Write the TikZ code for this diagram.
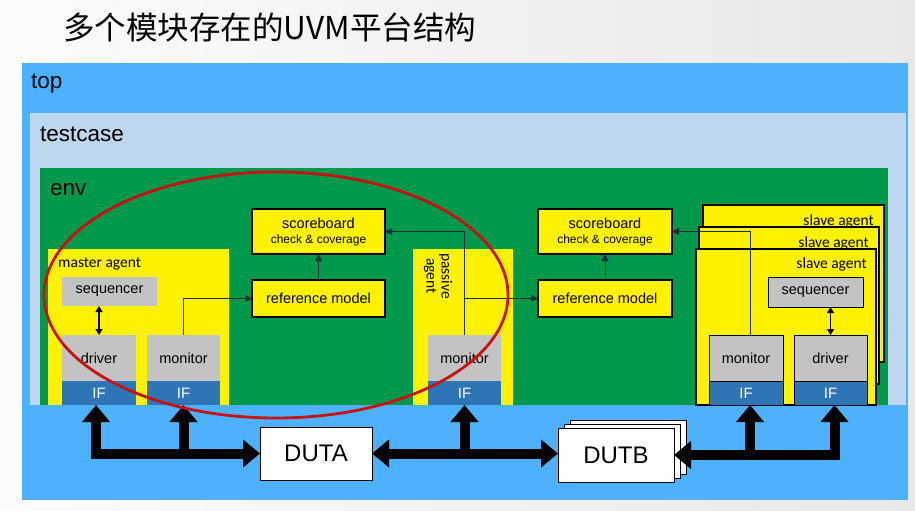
\documentclass[tikz,border=0pt]{standalone}
\usepackage{fontspec}
\setmainfont{Liberation Sans}
\newfontfamily\cjkfont{Noto Sans CJK SC}
\newfontfamily\agentfont{Carlito}
\usepackage{tikz}
\usetikzlibrary{arrows.meta,positioning,shapes.geometric,calc}
\definecolor{mytopblue}{RGB}{77,177,255}
\definecolor{mytestblue}{RGB}{189,215,238}
\definecolor{myenvgreen}{RGB}{0,152,74}
\definecolor{myyellow}{RGB}{255,242,0}
\definecolor{mygrey}{RGB}{195,195,195}
\definecolor{myifblue}{RGB}{46,117,182}
\definecolor{myred}{RGB}{200,18,18}
\definecolor{mylinkcolor}{RGB}{30,45,60}

\begin{document}
\begin{tikzpicture}[
  x=1pt, y=-1pt,
  myframe/.style={
    anchor=north west,
    inner sep=0pt,
    outer sep=0pt
  },
  mylabel/.style={
    anchor=west,
    inner sep=0pt,
    font=\fontsize{22.5}{25}\selectfont
  },
  myrect/.style={
    myframe,
    draw=black,
    line width=1.2pt,
    fill=myyellow,
    align=center,
    font=\fontsize{14.5}{16}\selectfont
  },
  mygreybox/.style={
    myframe,
    fill=mygrey,
    font=\fontsize{14.5}{16}\selectfont
  },
  myif/.style={
    inner sep=0pt,
    outer sep=0pt,
    fill=myifblue,
    text=white,
    font=\fontsize{15}{16}\selectfont
  },
  myagent/.style={
    inner sep=0pt,
    font=\agentfont\fontsize{15.5}{15}\selectfont
  },
  mydut/.style={
    myframe,
    draw=black,
    line width=0.8pt,
    fill=white,
    font=\fontsize{24}{28}\selectfont
  },
  mylink/.style={
    draw=mylinkcolor,
    line width=1pt,
    -{Triangle[width=7pt,length=7pt]}
  },
  mysync/.style={
    draw=black,
    line width=1.4pt,
    {Triangle[width=7pt,length=6pt]}-{Triangle[width=7pt,length=6pt]}
  },
  mybus/.style={
    draw=black,
    line width=10pt
  },
  mytip/.tip={Triangle[width=27pt,length=17pt]}
]
\useasboundingbox (0,0) rectangle (915,511);
\shade[left color={rgb,255:red,252;green,252;blue,252},
  right color={rgb,255:red,232;green,232;blue,235}] (0,0) rectangle (915,511);

\node [anchor=west, inner sep=0pt, font=\cjkfont\fontsize{31.5}{34}\selectfont] (title) at (63,27) {多个模块存在的UVM平台结构};

\node [myframe, fill=mytopblue, minimum width=886pt, minimum height=437pt] (top) at (22,63) {};
\node [mylabel] (topL) at (31,84) {top};
\node [myframe, fill=mytestblue, minimum width=876pt, minimum height=292pt] (testcase) at (30,113) {};
\node [mylabel] (testcaseL) at (40,134) {testcase};
\node [myframe, fill=myenvgreen, minimum width=848pt, minimum height=237pt] (env) at (40,168) {};
\node [mylabel] (envL) at (50,190) {env};

% master agent
\node [myframe, fill=myyellow, minimum width=181pt, minimum height=156pt] (master) at (48,249) {};
\node [myagent, anchor=west] (masterL) at (58,264) {master agent};
\node [mygreybox, minimum width=95pt, minimum height=29pt] (mseq) at (62,277) {sequencer};
\node [mygreybox, minimum width=74pt, minimum height=46pt] (mdrv) at (62,335) {driver};
\node [myif, minimum width=74pt, minimum height=24pt, below=0pt of mdrv] (mdrvif) {IF};
\node [mygreybox, minimum width=73pt, minimum height=46pt] (mmon) at (147,335) {monitor};
\node [myif, minimum width=73pt, minimum height=24pt, below=0pt of mmon] (mmonif) {IF};

% scoreboards and reference models
\node [myrect, minimum width=133pt, minimum height=45pt] (sbA) at (252,209)
  {scoreboard\\[-1pt]{\fontsize{12}{13}\selectfont check \& coverage}};
\node [myrect, minimum width=133pt, minimum height=37pt] (refA) at (252,280) {reference model};
\node [myrect, minimum width=134pt, minimum height=45pt] (sbB) at (538,209)
  {scoreboard\\[-1pt]{\fontsize{12}{13}\selectfont check \& coverage}};
\node [myrect, minimum width=134pt, minimum height=37pt] (refB) at (538,280) {reference model};

% passive agent
\node [myframe, fill=myyellow, minimum width=100pt, minimum height=156pt] (passive) at (413,249) {};
\node [myagent, rotate=-90, align=center] (passiveL) at (438,276) {passive\\agent};
\node [mygreybox, minimum width=73pt, minimum height=46pt] (pmon) at (428,335) {monitor};
\node [myif, minimum width=73pt, minimum height=24pt, below=0pt of pmon] (pmonif) {IF};

% slave agents
\node [myrect, minimum width=181pt, minimum height=157pt] (slaveC) at (703,205) {};
\node [myagent, anchor=east] (slaveCL) at (874,221) {slave agent};
\node [myrect, minimum width=180pt, minimum height=157pt] (slaveB) at (699,227) {};
\node [myagent, anchor=east] (slaveBL) at (869,243) {slave agent};
\node [myrect, minimum width=180pt, minimum height=156pt] (slaveA) at (696,249) {};
\node [myagent, anchor=east] (slaveAL) at (867,264) {slave agent};
\node [mygreybox, draw=black, line width=1pt, minimum width=95pt, minimum height=30pt] (sseq) at (768,277) {sequencer};
\node [mygreybox, draw=black, line width=1pt, minimum width=74pt, minimum height=46pt] (smon) at (709,335) {monitor};
\node [myif, draw=black, line width=1pt, minimum width=74pt, minimum height=24pt, below=0pt of smon] (smonif) {IF};
\node [mygreybox, draw=black, line width=1pt, minimum width=73pt, minimum height=46pt] (sdrv) at (794,335) {driver};
\node [myif, draw=black, line width=1pt, minimum width=73pt, minimum height=24pt, below=0pt of sdrv] (sdrvif) {IF};

% connections inside env
\draw [mysync] (mdrv.north |- mseq.south) -- (mdrv.north);
\draw [mysync] (sdrv.north |- sseq.south) -- (sdrv.north);
\draw [mylink] (mmon.north) |- (refA.west);
\draw [mylink] (refA.north) -- (sbA.south);
\draw [mylink] (pmon.north) |- (sbA.east);
\draw [mylink] (pmon.north |- refB.west) -- (refB.west);
\draw [mylink] (refB.north) -- (sbB.south);
\draw [mylink] ($(smon.north)+(4,0)$) |- (sbB.east);

% DUTs
\node [mydut, minimum width=112pt, minimum height=53pt] (duta) at (260,427) {DUTA};
\node [mydut, minimum width=116pt, minimum height=54pt] (dutbC) at (570,420) {};
\node [mydut, minimum width=116pt, minimum height=54pt] (dutbB) at (564,424) {};
\node [mydut, minimum width=116pt, minimum height=54pt] (dutb) at (558,428) {DUTB};

% buses
\draw [mybus, {mytip}-{mytip}] ($(mdrvif.south)+(-3,0)$) |- (duta.west);
\draw [mybus, {mytip}-] (mmonif.south) -- (mmonif.south |- duta.west);
\draw [mybus, {mytip}-{mytip}] (duta.east) -- (duta.east -| dutb.west);
\draw [mybus, {mytip}-] (pmonif.south) -- (pmonif.south |- duta.east);
\draw [mybus, {mytip}-{mytip}] ($(sdrvif.south)+(4,0)$) |- (dutb.east);
\draw [mybus, {mytip}-] ($(smonif.south)+(4,0)$) -- ($(smonif.south |- dutb.east)+(4,0)$);

\node [ellipse, draw=myred, line width=2.8pt, inner sep=0pt,
  minimum width=464pt, minimum height=246pt] (focus) at (276,295) {};

\end{tikzpicture}
\end{document}
